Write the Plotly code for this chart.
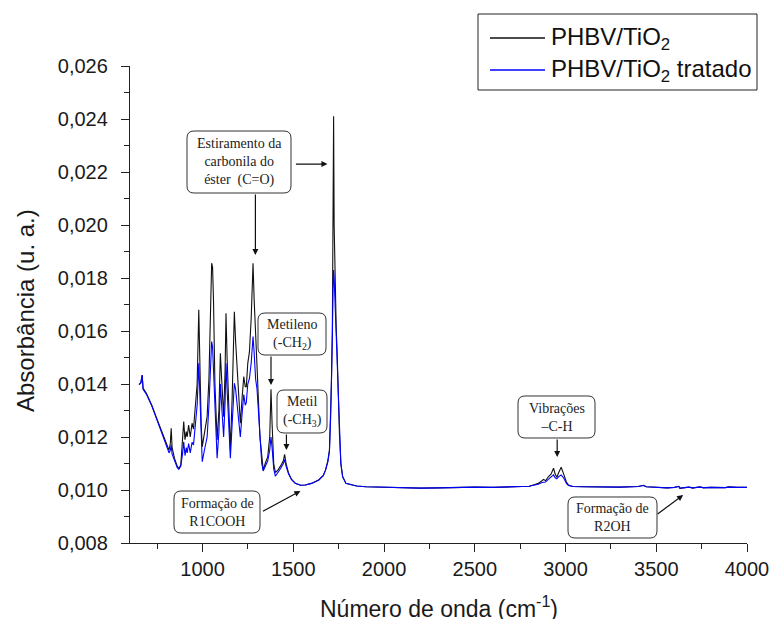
import plotly.graph_objects as go

# FTIR spectra: wavenumber (cm-1) and absorbance (u. a.)
wavenumber = [
    650, 660, 667, 672, 690, 720, 750, 780, 805, 815,
    822, 827, 832, 845, 860, 869, 880, 890, 896, 903,
    910, 915, 923, 932, 942, 950, 961, 970, 979, 985,
    992, 998, 1010, 1025, 1035, 1045, 1050, 1055, 1060, 1068,
    1080, 1090, 1098, 1105, 1116, 1124, 1129, 1135, 1145, 1153,
    1163, 1175, 1182, 1195, 1208, 1218, 1227, 1235, 1241, 1249,
    1258, 1268, 1273, 1278, 1284, 1292, 1300, 1316, 1326, 1334,
    1345, 1359, 1370, 1377, 1383, 1392, 1401, 1415, 1429, 1445,
    1452, 1460, 1474, 1490, 1511, 1540, 1566, 1600, 1640, 1665,
    1677, 1690, 1699, 1706, 1710, 1715, 1719, 1722, 1725, 1730,
    1736, 1741, 1748, 1754, 1762, 1772, 1790, 1824, 1850, 1900,
    2000, 2100, 2200, 2300, 2400, 2500, 2600, 2700, 2800, 2823,
    2850, 2870, 2879, 2890, 2905, 2920, 2934, 2943, 2952, 2962,
    2976, 2990, 3005, 3016, 3040, 3100, 3200, 3300, 3400, 3430,
    3445, 3500, 3560, 3600, 3625, 3630, 3680, 3700, 3740, 3760,
    3800, 3880, 3900, 3950, 4000,
]

absorb_phbv = [
    0.01398, 0.01405, 0.01434, 0.01385, 0.01365, 0.01320, 0.01265, 0.01210, 0.01163, 0.01150,
    0.01175, 0.01233, 0.01160, 0.01120, 0.01090, 0.01080, 0.01095, 0.01180, 0.01258, 0.01190,
    0.01220, 0.01200, 0.01245, 0.01200, 0.01252, 0.01230, 0.01330, 0.01400, 0.01680, 0.01450,
    0.01250, 0.01163, 0.01220, 0.01277, 0.01420, 0.01700, 0.01856, 0.01840, 0.01720, 0.01400,
    0.01189, 0.01300, 0.01516, 0.01420, 0.01277, 0.01450, 0.01667, 0.01500, 0.01280, 0.01151,
    0.01350, 0.01673, 0.01560, 0.01380, 0.01252, 0.01350, 0.01428, 0.01390, 0.01390, 0.01478,
    0.01520, 0.01650, 0.01790, 0.01856, 0.01720, 0.01560, 0.01466, 0.01201, 0.01110, 0.01075,
    0.01100, 0.01126, 0.01200, 0.01380, 0.01250, 0.01100, 0.01066, 0.01075, 0.01090, 0.01110,
    0.01135, 0.01100, 0.01063, 0.01040, 0.01025, 0.01018, 0.01019, 0.01025, 0.01038, 0.01055,
    0.01075, 0.01110, 0.01151, 0.01300, 0.01403, 0.01600, 0.01900, 0.02410, 0.02000, 0.01800,
    0.01620, 0.01528, 0.01350, 0.01214, 0.01100, 0.01050, 0.01025, 0.01019, 0.01015, 0.01012,
    0.01010, 0.01008, 0.01007, 0.01008, 0.01010, 0.01011, 0.01010, 0.01011, 0.01014, 0.01019,
    0.01025, 0.01035, 0.01040, 0.01035, 0.01050, 0.01060, 0.01082, 0.01060, 0.01048, 0.01065,
    0.01086, 0.01060, 0.01030, 0.01019, 0.01013, 0.01012, 0.01011, 0.01011, 0.01013, 0.01018,
    0.01012, 0.01010, 0.01008, 0.01010, 0.01014, 0.01006, 0.01011, 0.01007, 0.01012, 0.01008,
    0.01010, 0.01009, 0.01012, 0.01010, 0.01010,
]

absorb_tratado = [
    0.01398, 0.01405, 0.01434, 0.01380, 0.01362, 0.01318, 0.01262, 0.01205, 0.01158, 0.01140,
    0.01150, 0.01170, 0.01135, 0.01110, 0.01085, 0.01078, 0.01090, 0.01140, 0.01182, 0.01130,
    0.01160, 0.01140, 0.01175, 0.01140, 0.01180, 0.01170, 0.01240, 0.01320, 0.01478, 0.01350,
    0.01180, 0.01107, 0.01150, 0.01200, 0.01320, 0.01480, 0.01560, 0.01540, 0.01450, 0.01280,
    0.01120, 0.01220, 0.01400, 0.01320, 0.01200, 0.01330, 0.01478, 0.01380, 0.01200, 0.01120,
    0.01250, 0.01403, 0.01380, 0.01280, 0.01200, 0.01290, 0.01360, 0.01320, 0.01330, 0.01400,
    0.01420, 0.01480, 0.01530, 0.01579, 0.01520, 0.01420, 0.01380, 0.01180, 0.01100, 0.01072,
    0.01090, 0.01110, 0.01150, 0.01200, 0.01160, 0.01080, 0.01052, 0.01065, 0.01080, 0.01100,
    0.01115, 0.01090, 0.01060, 0.01040, 0.01025, 0.01018, 0.01019, 0.01025, 0.01038, 0.01054,
    0.01073, 0.01105, 0.01145, 0.01280, 0.01380, 0.01580, 0.01760, 0.01830, 0.01800, 0.01700,
    0.01580, 0.01500, 0.01340, 0.01210, 0.01098, 0.01050, 0.01025, 0.01019, 0.01015, 0.01012,
    0.01010, 0.01008, 0.01007, 0.01008, 0.01010, 0.01011, 0.01010, 0.01011, 0.01014, 0.01018,
    0.01022, 0.01028, 0.01030, 0.01030, 0.01040, 0.01048, 0.01057, 0.01046, 0.01042, 0.01050,
    0.01057, 0.01045, 0.01025, 0.01017, 0.01013, 0.01012, 0.01011, 0.01011, 0.01013, 0.01017,
    0.01012, 0.01010, 0.01008, 0.01010, 0.01013, 0.01007, 0.01011, 0.01008, 0.01011, 0.01009,
    0.01010, 0.01009, 0.01011, 0.01010, 0.01010,
]

series_names = ["PHBV/TiO<sub>2</sub>", "PHBV/TiO<sub>2</sub> tratado"]
series_colors = ["#111111", "#0000ff"]

# Band assignments: arrow tips at (wavenumber, absorbance)
band_targets_wn = [1688, 1291, 1377, 1462, 1539, 2954, 3648]
band_targets_abs = [0.0223, 0.01887, 0.01396, 0.01151, 0.00996, 0.01125, 0.00981]

# Plot-area geometry (pixels) used to place the callout boxes and the key
W, H = 769, 619
L, R, T, B = 130, 747, 66, 543


def paper_x(px):
    return (px - L) / (R - L)


def paper_y(py):
    return (B - py) / (B - T)


def rounded_box_path(x0, y0, x1, y1, r=7):
    pts = [
        ("M", [(x0 + r, y0)]),
        ("L", [(x1 - r, y0)]),
        ("Q", [(x1, y0), (x1, y0 + r)]),
        ("L", [(x1, y1 - r)]),
        ("Q", [(x1, y1), (x1 - r, y1)]),
        ("L", [(x0 + r, y1)]),
        ("Q", [(x0, y1), (x0, y1 - r)]),
        ("L", [(x0, y0 + r)]),
        ("Q", [(x0, y0), (x0 + r, y0)]),
    ]
    out = []
    for cmd, coords in pts:
        out.append(cmd + " ".join(f"{paper_x(a):.5f},{paper_y(b):.5f}" for a, b in coords))
    return " ".join(out) + " Z"


# Callout boxes: (left, top, right, bottom) in pixels and their text
callouts = [
    ((187, 131, 291, 193), "Estiramento da<br>carbonila do<br>éster  (C=O)"),
    ((258, 313, 326, 355), "Metileno<br>(-CH<sub>2</sub>)"),
    ((277, 390, 327, 433), "Metil<br>(-CH<sub>3</sub>)"),
    ((174, 491, 260, 533), "Formação de<br>R1COOH"),
    ((518, 396, 595, 438), "Vibrações<br>–C-H"),
    ((568, 497, 657, 538), "Formação de<br>R2OH"),
]
# Arrow tail offsets (pixels) from each tip
arrow_offsets = [(-33, 0), (0, -62), (0, -30), (0, -17), (-39, 21), (0, -19), (-27, 20)]

fig = go.Figure()
for yvals, name, color in zip([absorb_phbv, absorb_tratado], series_names, series_colors):
    fig.add_trace(go.Scatter(x=wavenumber, y=yvals, mode="lines", name=name,
                             line=dict(color=color, width=1.1), showlegend=False))

shapes = []
annotations = []
for (x0, y0, x1, y1), txt in callouts:
    shapes.append(dict(type="path", xref="paper", yref="paper", path=rounded_box_path(x0, y0, x1, y1),
                       line=dict(color="#333333", width=1), fillcolor="white", layer="above"))
    annotations.append(dict(x=paper_x((x0 + x1) / 2), y=paper_y((y0 + y1) / 2), xref="paper", yref="paper",
                            text=txt, showarrow=False, xanchor="center", yanchor="middle",
                            font=dict(family="Liberation Serif, Times New Roman, serif", size=14, color="#222")))

for wn, ab, (dx, dy) in zip(band_targets_wn, band_targets_abs, arrow_offsets):
    annotations.append(dict(x=wn, y=ab, xref="x", yref="y", ax=dx, ay=dy, text="", showarrow=True,
                            arrowhead=2, arrowsize=1, arrowwidth=1.2, arrowcolor="#111",
                            standoff=0, startstandoff=0))

# Key box with line samples
key_box = (478, 14, 757, 90)
key_rows_y = [38, 70]
shapes.append(dict(type="rect", xref="paper", yref="paper",
                   x0=paper_x(key_box[0]), x1=paper_x(key_box[2]),
                   y0=paper_y(key_box[3]), y1=paper_y(key_box[1]),
                   line=dict(color="#222", width=1), fillcolor="white", layer="above"))
for name, color, ry in zip(series_names, series_colors, key_rows_y):
    shapes.append(dict(type="line", xref="paper", yref="paper",
                       x0=paper_x(490), x1=paper_x(545), y0=paper_y(ry), y1=paper_y(ry),
                       line=dict(color=color, width=1.3), layer="above"))
    annotations.append(dict(x=paper_x(549), y=paper_y(ry), xref="paper", yref="paper", showarrow=False,
                            text=name, xanchor="left", yanchor="middle",
                            font=dict(size=24, color="#111")))

# Axis titles
annotations.append(dict(x=0.5, y=paper_y(607), xref="paper", yref="paper", showarrow=False,
                        text="Número de onda (cm<sup>-1</sup>)", xanchor="center", yanchor="middle",
                        font=dict(size=23, color="#1a1a1a")))
annotations.append(dict(x=paper_x(25), y=paper_y(310), xref="paper", yref="paper", showarrow=False,
                        text="Absorbância (u. a.)", textangle=-90, xanchor="center", yanchor="middle",
                        font=dict(size=24, color="#1a1a1a")))

fig.update_layout(
    width=W, height=H,
    margin=dict(l=L, r=W - R, t=T, b=H - B, autoexpand=False),
    paper_bgcolor="white", plot_bgcolor="white",
    separators=",.",
    font=dict(family="Liberation Sans, Arial, sans-serif", size=20, color="#1a1a1a"),
    shapes=shapes, annotations=annotations,
    showlegend=False,
)
fig.update_xaxes(range=[600, 4000], dtick=500, tick0=0, tickformat="d",
                 showgrid=False, zeroline=False, showline=True, linecolor="#222", linewidth=1.3,
                 ticks="outside", ticklen=8, tickwidth=1.2, tickcolor="#222",
                 minor=dict(dtick=250, tick0=0, ticks="outside", ticklen=5, tickwidth=1.1, tickcolor="#222"),
                 tickfont=dict(size=20), ticklabeloverflow="allow")
fig.update_yaxes(range=[0.008, 0.026], dtick=0.002, tick0=0.008, tickformat=".3f",
                 showgrid=False, zeroline=False, showline=True, linecolor="#222", linewidth=1.3,
                 ticks="outside", ticklen=8, tickwidth=1.2, tickcolor="#222",
                 minor=dict(dtick=0.001, tick0=0.008, ticks="outside", ticklen=5, tickwidth=1.1, tickcolor="#222"),
                 tickfont=dict(size=20), ticklabelstandoff=9, ticklabeloverflow="allow")

fig.write_html("out.html")
